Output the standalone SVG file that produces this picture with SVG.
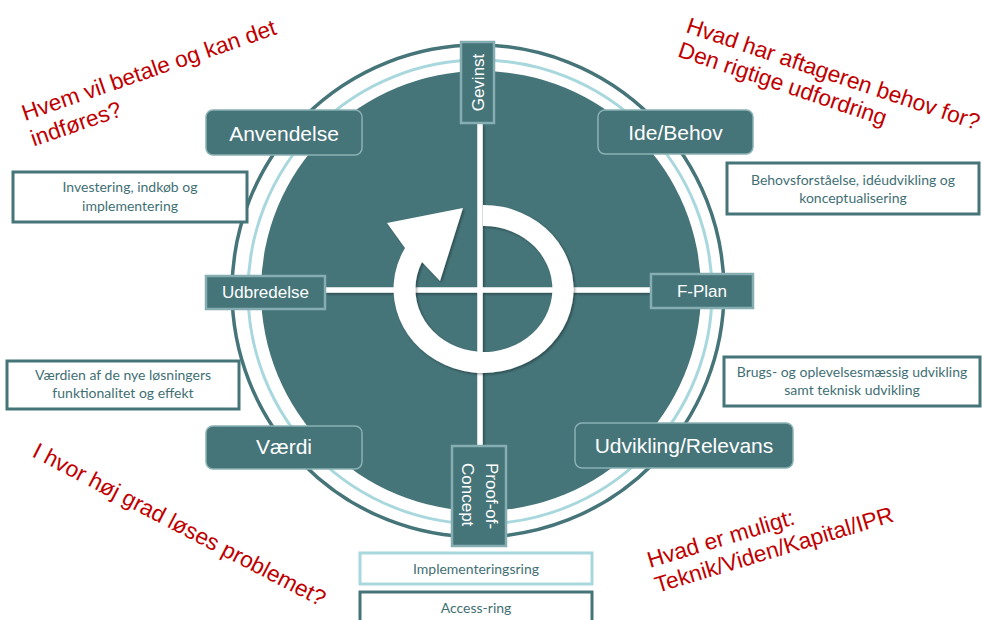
<svg xmlns="http://www.w3.org/2000/svg" width="982" height="620" viewBox="0 0 982 620">
<defs>
<style>
.lab{fill:#457479;stroke:#8ab1b4;stroke-width:1.5}
.sq{fill:#457479;stroke:#86adb1;stroke-width:2.5}
.wb{fill:#fff;stroke:#457479;stroke-width:3}
.lt{font-family:"Liberation Sans",Arial,sans-serif;fill:#fff;text-anchor:middle}
.l21{font-size:21px}
.l17{font-size:17px}
.bt{font-family:Lato,"Open Sans",sans-serif;font-size:14px;fill:#3f6f74;text-anchor:middle}
.red{font-family:"Liberation Sans",Arial,sans-serif;font-size:22.7px;fill:#c00000}
.xl{fill:#fff}
</style>
<filter id="sh" filterUnits="userSpaceOnUse" x="0" y="0" width="982" height="620">
<feDropShadow dx="1.5" dy="1.5" stdDeviation="1.2" flood-color="#000" flood-opacity="0.35"/>
</filter>
</defs>
<rect width="982" height="620" fill="#fff"/>

<g id="wheel">
<circle cx="478" cy="291" r="246" fill="none" stroke="#457479" stroke-width="3.5"/>
<circle cx="480" cy="292" r="232" fill="none" stroke="#a8d8dd" stroke-width="3"/>
<circle cx="481" cy="291" r="220" fill="#457479"/>
</g>

<g id="connectors" filter="url(#sh)">
<rect class="xl" x="477.25" y="124" width="5.5" height="322"/>
<rect class="xl" x="325" y="287.25" width="326" height="5.5"/>
</g>

<g id="cycle-arrow">
<path d="M 483 205 A 90 84 0 1 1 405 248 L 387 223 L 463 208 L 440 281 L 422 262 A 68.5 63 0 1 0 483 226 Z" fill="#fff" filter="url(#sh)"/>
</g>

<g id="gevinst">
<rect class="sq" x="461" y="42" width="33" height="81"/>
<text class="lt l17" transform="translate(484,82.5) rotate(-90)" x="0" y="0">Gevinst</text>
</g>

<g id="proof-of-concept">
<rect class="sq" x="452" y="446" width="54" height="100"/>
<text class="lt l17" transform="translate(486,463) rotate(90)" style="text-anchor:start"><tspan x="0" y="0">Proof-of-</tspan><tspan x="0" y="24">Concept</tspan></text>
</g>

<g id="udbredelse">
<rect class="sq" x="206" y="276" width="119" height="33"/>
<text class="lt l17" x="265.5" y="298">Udbredelse</text>
</g>

<g id="f-plan">
<rect class="sq" x="651" y="274" width="102" height="34"/>
<text class="lt l17" x="702" y="297">F-Plan</text>
</g>

<g id="anvendelse">
<rect class="lab" x="206" y="110" width="156" height="45" rx="7"/>
<text class="lt l21" x="284" y="141">Anvendelse</text>
</g>

<g id="ide-behov">
<rect class="lab" x="598" y="110" width="155" height="44" rx="7"/>
<text class="lt l21" x="675.5" y="140">Ide/Behov</text>
</g>

<g id="vaerdi">
<rect class="lab" x="206" y="426" width="156" height="43" rx="7"/>
<text class="lt l21" x="284" y="454">Værdi</text>
</g>

<g id="udvikling-relevans">
<rect class="lab" x="575" y="423" width="218" height="45" rx="7"/>
<text class="lt l21" x="684" y="453">Udvikling/Relevans</text>
</g>

<g id="investering">
<rect class="wb" x="13" y="172" width="234" height="50"/>
<text class="bt"><tspan x="130" y="192">Investering, indkøb og</tspan><tspan x="130" y="210.5">implementering</tspan></text>
</g>

<g id="behovsforstaaelse">
<rect class="wb" x="727" y="163" width="252" height="51"/>
<text class="bt"><tspan x="853" y="185">Behovsforståelse, idéudvikling og</tspan><tspan x="853" y="203">konceptualisering</tspan></text>
</g>

<g id="vaerdien">
<rect class="wb" x="7" y="361" width="232" height="48"/>
<text class="bt"><tspan x="123" y="380">Værdien af de nye løsningers</tspan><tspan x="123" y="398">funktionalitet og effekt</tspan></text>
</g>

<g id="brugs">
<rect class="wb" x="724" y="357" width="256" height="49"/>
<text class="bt"><tspan x="852" y="377">Brugs- og oplevelsesmæssig udvikling</tspan><tspan x="852" y="395">samt teknisk udvikling</tspan></text>
</g>

<g id="implementeringsring">
<rect x="360" y="553" width="232" height="31" fill="#fff" stroke="#a8d8dd" stroke-width="3"/>
<text class="bt" x="476" y="574">Implementeringsring</text>
</g>

<g id="access-ring">
<rect class="wb" x="360" y="592" width="232" height="40"/>
<text class="bt" x="476" y="613">Access-ring</text>
</g>

<g id="questions">
<text class="red" transform="translate(25,121) rotate(-19)"><tspan x="0" y="0">Hvem vil betale og kan det</tspan><tspan x="0" y="27">indføres?</tspan></text>
<text class="red" transform="translate(685,32) rotate(18.6)"><tspan x="0" y="0">Hvad har aftageren behov for?</tspan><tspan x="0" y="25.5">Den rigtige udfordring</tspan></text>
<text class="red" transform="translate(31,456) rotate(27.5)">I hvor høj grad løses problemet?</text>
<text class="red" transform="translate(650,568) rotate(-16.8)"><tspan x="0" y="0">Hvad er muligt:</tspan><tspan x="0" y="26">Teknik/Viden/Kapital/IPR</tspan></text>
</g>
</svg>
